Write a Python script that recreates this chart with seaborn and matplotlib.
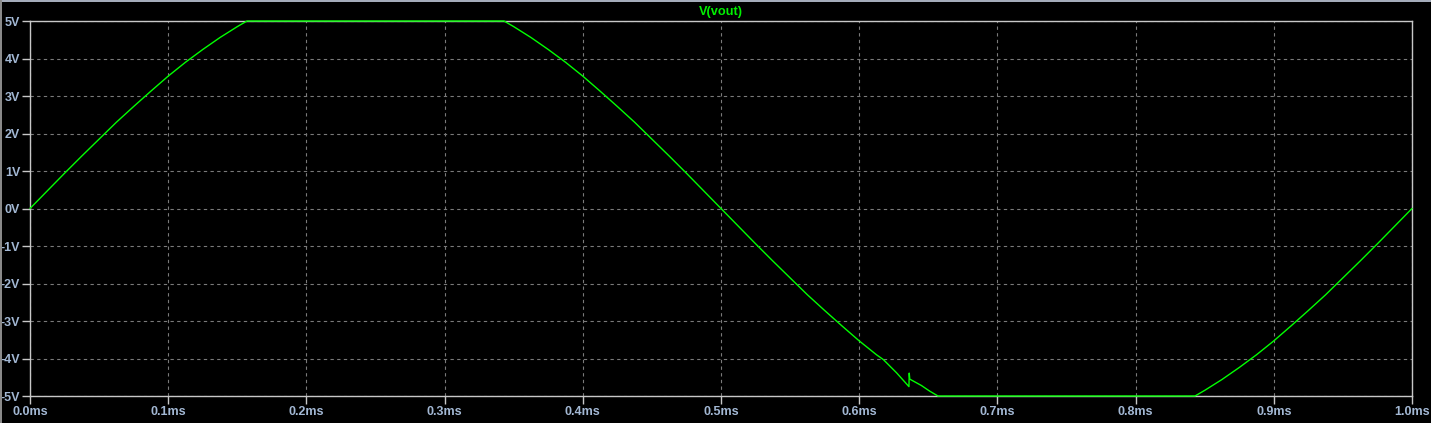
import matplotlib
matplotlib.use("Agg")
import matplotlib.pyplot as plt
import seaborn as sns
from matplotlib.patches import Rectangle

# Data (time in ms, voltage in V)
time_ms = [0.0, 0.0125, 0.025, 0.0375, 0.05, 0.0625, 0.075, 0.0875, 0.1,
           0.1125, 0.125, 0.1375, 0.15, 0.157,
           0.343, 0.35, 0.3625, 0.375, 0.3875, 0.4, 0.4125, 0.425, 0.4375,
           0.45, 0.4625, 0.475, 0.4875, 0.5,
           0.5125, 0.525, 0.5375, 0.55, 0.5625, 0.575, 0.5875, 0.6, 0.6125,
           0.6175, 0.627, 0.636, 0.6362, 0.6366, 0.645, 0.651, 0.657,
           0.843, 0.85, 0.8625, 0.875, 0.8875, 0.9, 0.9125, 0.925, 0.9375,
           0.95, 0.9625, 0.975, 0.9875, 1.0]
vout = [0.0, 0.47, 0.94, 1.40, 1.85, 2.30, 2.72, 3.13, 3.53,
        3.90, 4.24, 4.56, 4.85, 5.0,
        5.0, 4.85, 4.56, 4.24, 3.90, 3.53, 3.13, 2.72, 2.30,
        1.85, 1.40, 0.94, 0.47, 0.0,
        -0.47, -0.94, -1.40, -1.85, -2.30, -2.72, -3.13, -3.53, -3.90,
        -4.03, -4.38, -4.75, -4.39, -4.55, -4.72, -4.87, -5.0,
        -5.0, -4.85, -4.56, -4.24, -3.90, -3.53, -3.13, -2.72, -2.30,
        -1.85, -1.40, -0.94, -0.47, 0.0]

x_ticks = [0.0, 0.1, 0.2, 0.3, 0.4, 0.5, 0.6, 0.7, 0.8, 0.9, 1.0]
x_labels = ["0.0ms", "0.1ms", "0.2ms", "0.3ms", "0.4ms", "0.5ms",
            "0.6ms", "0.7ms", "0.8ms", "0.9ms", "1.0ms"]
y_ticks = [-5, -4, -3, -2, -1, 0, 1, 2, 3, 4, 5]
y_labels = ["-5V", "-4V", "-3V", "-2V", "-1V", "0V", "1V", "2V", "3V", "4V", "5V"]
title = "V(vout)"

sns.set_style("dark")
plt.rcParams['font.family'] = ['Liberation Sans', 'DejaVu Sans']

W, H = 1431, 423
fig = plt.figure(figsize=(W / 100, H / 100), dpi=100, facecolor="black")
ax = fig.add_axes([30 / W, 1 - 396 / H, (1412 - 30) / W, (396 - 21) / H])
ax.set_facecolor("black")

spine_col = "#c8c8c8"
label_col = "#a3b8d4"
grid_col = "#7a7a7a"

ax.set_xlim(0, 1.0)
ax.set_ylim(-5, 5)
ax.set_xticks(x_ticks)
ax.set_xticklabels(x_labels)
ax.set_yticks(y_ticks)
ax.set_yticklabels(y_labels)

ax.grid(True, color=grid_col, linestyle=(0, (3, 3)), linewidth=0.8)
ax.set_axisbelow(True)

sns.lineplot(x=time_ms, y=vout, ax=ax, estimator=None, sort=False,
             color="#00ff00", linewidth=1.0, zorder=5, clip_on=False)

for s in ax.spines.values():
    s.set_visible(True)
    s.set_color(spine_col)
    s.set_linewidth(1.0)

ax.tick_params(axis="both", which="both", direction="out", length=5.5,
               width=1.0, color=spine_col, labelcolor=label_col,
               labelsize=9, pad=1.5, bottom=True, left=True)
for lab in ax.get_xticklabels() + ax.get_yticklabels():
    lab.set_fontweight("bold")

ax.set_xlabel("")
ax.set_ylabel("")

fig.text((30 + 1412) / 2 / W, 1 - 12 / H, title, color="#00f000",
         fontsize=9.2, fontweight="bold", ha="center", va="center")

# window border strips
fig.patches.append(Rectangle((0, 1 - 2 / H), 1, 2 / H, transform=fig.transFigure,
                             facecolor="#a4acba", edgecolor="none", zorder=0))
fig.patches.append(Rectangle((0, 0), 2 / W, 1, transform=fig.transFigure,
                             facecolor="#8a8a8a", edgecolor="none", zorder=0))

fig.savefig("out.png", dpi=100, facecolor="black")
